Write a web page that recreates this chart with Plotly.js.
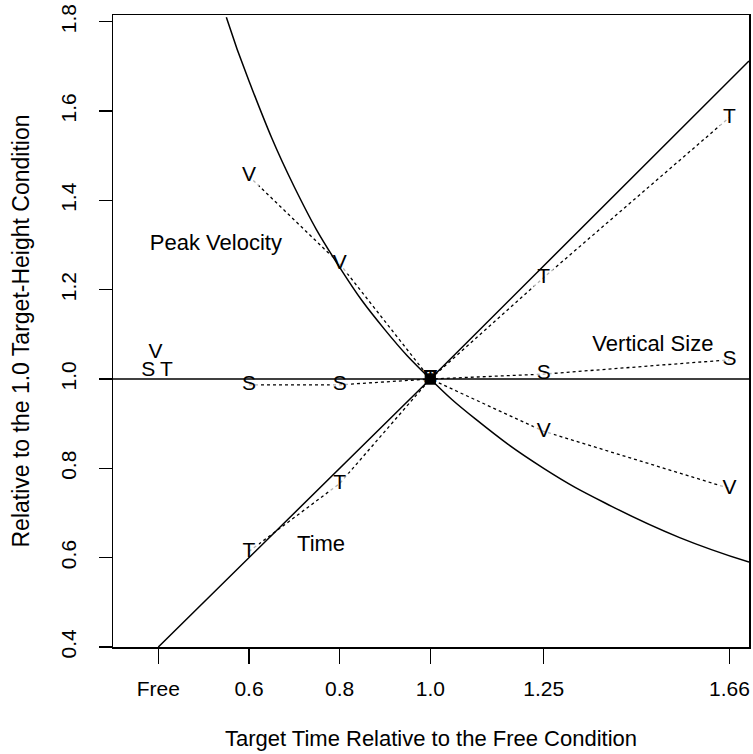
<!DOCTYPE html>
<html>
<head>
<meta charset="utf-8">
<script src="https://cdn.plot.ly/plotly-3.0.1.min.js"></script>
<style>
  html, body { margin: 0; padding: 0; background: #fff; }
  #chart { width: 753px; height: 754px; }
</style>
</head>
<body>
<div id="chart"></div>
<script>
// Target-time conditions (Free is plotted at 0.4)
const conditions = [0.6, 0.8, 1.0, 1.25, 1.66];
const tickVals = [0.4, 0.6, 0.8, 1.0, 1.25, 1.66];
const tickText = ['Free', '0.6', '0.8', '1.0', '1.25', '1.66'];

// Measured values relative to the 1.0 target-height condition
const peakVelocity = [1.454, 1.258, 1.0, 0.883, 0.755];
const movementTime = [0.614, 0.766, 1.0, 1.227, 1.586];
const verticalSize = [0.987, 0.987, 1.0, 1.011, 1.043];

// Free-condition values (letters S, V, T)
const freeX = [0.378, 0.394, 0.418];
const freeY = [1.018, 1.058, 1.018];
const freeLabels = ['S', 'V', 'T'];

// Reference curves
const unitX = [0.3, 1.703];
const unitY = [1.0, 1.0];
const identityX = [0.4, 1.0, 1.703];
const identityY = [0.4, 1.0, 1.712];
const inverseX = [0.55, 0.6, 0.7, 0.8, 0.9, 1.0, 1.1, 1.25, 1.4, 1.55, 1.703];
const inverseY = [1.81, 1.667, 1.43, 1.25, 1.11, 1.0, 0.91, 0.8, 0.715, 0.645, 0.59];

// Curve labels
const curveLabels = ['Peak Velocity', 'Vertical Size', 'Time'];
const curveLabelX = [0.527, 1.491, 0.759];
const curveLabelY = [1.301, 1.076, 0.627];

const FONT = 'Liberation Sans, Arial, Helvetica, sans-serif';
const LETTER_SIZE = 21;

// White squares clear the dotted line around each letter; the common
// point at 1.0 is drawn as a solid black square.
const markerColors = conditions.map(c => (c === 1.0 ? '#000' : '#fff'));
const markerSizes = conditions.map(c => (c === 1.0 ? 11 : 20));

function measured(y, letter) {
  return {
    x: conditions, y: y, type: 'scatter', mode: 'lines+markers+text',
    line: { color: '#000', width: 1.3, dash: 'dot' },
    marker: { symbol: 'square', size: markerSizes, color: markerColors, line: { width: 0 } },
    text: conditions.map(() => letter), textposition: 'middle center',
    textfont: { family: FONT, size: LETTER_SIZE, color: '#000' },
    hoverinfo: 'skip', cliponaxis: false
  };
}

function solid(x, y, shape) {
  return {
    x: x, y: y, type: 'scatter', mode: 'lines',
    line: { color: '#000', width: 1.5, shape: shape || 'linear', smoothing: 1.3 },
    hoverinfo: 'skip'
  };
}

const traces = [
  measured(peakVelocity, 'V'),
  measured(movementTime, 'T'),
  measured(verticalSize, 'S'),
  {
    x: freeX, y: freeY, type: 'scatter', mode: 'text', text: freeLabels,
    textposition: 'middle center',
    textfont: { family: FONT, size: LETTER_SIZE, color: '#000' }, hoverinfo: 'skip'
  },
  solid(unitX, unitY),
  solid(identityX, identityY),
  solid(inverseX, inverseY, 'spline'),
  {
    x: curveLabelX, y: curveLabelY, type: 'scatter', mode: 'text', text: curveLabels,
    textposition: 'middle center',
    textfont: { family: FONT, size: 22, color: '#000' }, hoverinfo: 'skip'
  }
];

const layout = {
  width: 753, height: 754,
  margin: { l: 113, r: 4, t: 15, b: 107 },
  paper_bgcolor: '#fff', plot_bgcolor: '#fff',
  showlegend: false,
  font: { family: FONT, size: 21, color: '#000' },
  xaxis: {
    range: [0.3, 1.703], tickvals: tickVals, ticktext: tickText,
    ticks: 'outside', ticklen: 15, tickwidth: 1.3, tickcolor: '#000',
    showline: true, linecolor: '#000', linewidth: 1.5, mirror: true,
    showgrid: false, zeroline: false,
    ticklabelstandoff: 7,
    tickfont: { family: FONT, size: 21 },
    title: { text: 'Target Time Relative to the Free Condition', font: { family: FONT, size: 22 }, standoff: 32 }
  },
  yaxis: {
    range: [0.4, 1.815], tickvals: [0.4, 0.6, 0.8, 1.0, 1.2, 1.4, 1.6, 1.8],
    ticktext: ['0.4', '0.6', '0.8', '1.0', '1.2', '1.4', '1.6', '1.8'],
    ticks: 'outside', ticklen: 13, tickwidth: 1.3, tickcolor: '#000', tickangle: -90,
    showline: true, linecolor: '#000', linewidth: 1.5, mirror: true,
    showgrid: false, zeroline: false,
    ticklabelstandoff: 14,
    tickfont: { family: FONT, size: 21 },
    title: { text: 'Relative to the 1.0 Target-Height Condition', font: { family: FONT, size: 23 }, standoff: 21 }
  }
};

Plotly.newPlot('chart', traces, layout, { staticPlot: true, displayModeBar: false });
</script>
</body>
</html>
